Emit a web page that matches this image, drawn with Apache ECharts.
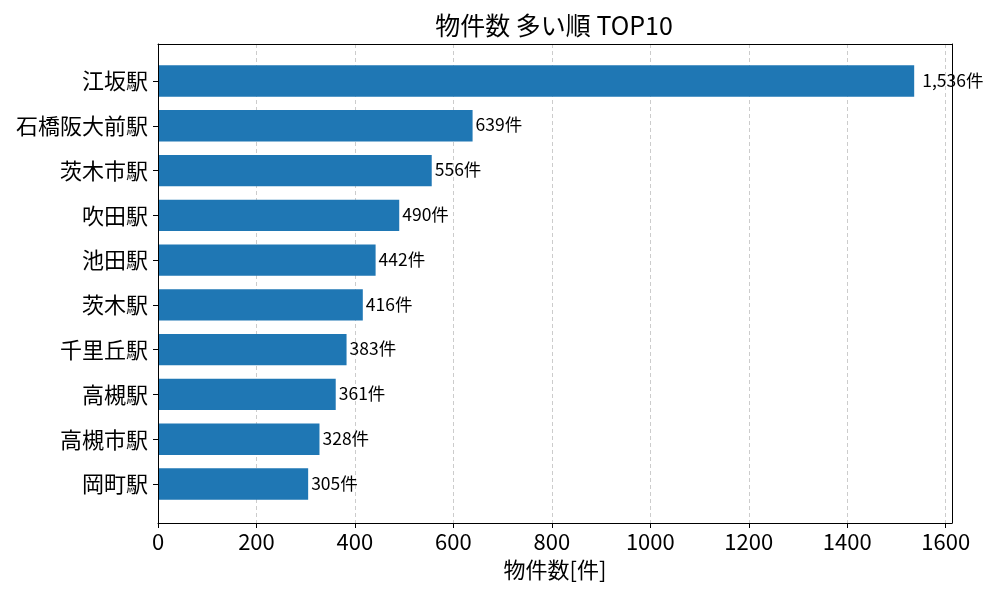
<!DOCTYPE html>
<html><head><meta charset="utf-8">
<script src="https://cdn.jsdelivr.net/npm/echarts@6/dist/echarts.min.js"></script>
<style>html,body{margin:0;padding:0;background:#fff}#c{width:1000px;height:600px}</style>
</head><body><div id="c"></div>
<script>
const stations = ['江坂駅','石橋阪大前駅','茨木市駅','吹田駅','池田駅','茨木駅','千里丘駅','高槻駅','高槻市駅','岡町駅'];
const counts = [1536, 639, 556, 490, 442, 416, 383, 361, 328, 305];
const xTicks = [0, 200, 400, 600, 800, 1000, 1200, 1400, 1600];
const FONT = 'Noto Sans CJK JP';
const xMax = 1612.8;

const frameLine = { show: true, onZero: false, lineStyle: { color: '#000', width: 1 } };
const chart = echarts.init(document.getElementById('c'));
chart.setOption({
  animation: false,
  textStyle: { fontFamily: FONT },
  title: {
    text: '物件数 多い順 TOP10', left: 549, top: 8, textAlign: 'center',
    textStyle: { fontFamily: FONT, fontSize: 25, fontWeight: 'normal', color: '#000' }
  },
  grid: [
    { left: 158, right: 48, top: 44, bottom: 77 },
    { left: 158, right: 48, top: 58.6, bottom: 93.6 }
  ],
  xAxis: [
    {
      gridIndex: 0, type: 'value', min: 0, max: xMax, position: 'bottom', z: 5,
      name: '物件数[件]', nameLocation: 'middle', nameGap: 36,
      nameTextStyle: { fontFamily: FONT, fontSize: 22, color: '#000' },
      axisLine: frameLine,
      axisTick: { show: true, length: 5, customValues: xTicks, lineStyle: { color: '#000' } },
      axisLabel: { customValues: xTicks, fontSize: 22, color: '#000', margin: 8, fontFamily: FONT, formatter: v => String(v) },
      splitLine: { show: false }
    },
    {
      gridIndex: 0, type: 'value', min: 0, max: xMax, position: 'top', z: 1,
      axisLine: { show: false }, axisTick: { show: false }, axisLabel: { show: false },
      splitLine: { show: true, lineStyle: { color: '#cccccc', type: [4, 3], width: 1 } },
      interval: 200
    },
    { gridIndex: 1, type: 'value', min: 0, max: xMax, show: false },
    {
      gridIndex: 0, type: 'value', min: 0, max: xMax, position: 'top', z: 5,
      axisLine: frameLine, axisTick: { show: false }, axisLabel: { show: false }, splitLine: { show: false }
    }
  ],
  yAxis: [
    { gridIndex: 0, type: 'value', min: 0, max: 1, position: 'left', z: 5,
      axisLine: frameLine, axisTick: { show: false }, axisLabel: { show: false }, splitLine: { show: false } },
    {
      gridIndex: 1, type: 'category', inverse: true, data: stations,
      axisLine: { show: false },
      axisTick: { show: true, length: 5, alignWithLabel: true, lineStyle: { color: '#000' } },
      axisLabel: { fontSize: 22, color: '#000', margin: 10, fontFamily: FONT },
      splitLine: { show: false }
    },
    { gridIndex: 0, type: 'value', min: 0, max: 1, position: 'right', z: 5,
      axisLine: frameLine, axisTick: { show: false }, axisLabel: { show: false }, splitLine: { show: false } }
  ],
  series: [{
    type: 'bar', xAxisIndex: 2, yAxisIndex: 1, z: 3,
    data: counts.map((v, i) => i === 0 ? { value: v, label: { distance: 8 } } : v),
    barCategoryGap: '30%',
    itemStyle: { color: '#1f77b4', borderWidth: 0 },
    label: {
      show: true, position: 'right', distance: 3, fontSize: 17.5, color: '#000', fontFamily: FONT,
      offset: [0, -1],
      formatter: p => p.value.toLocaleString('en-US') + '件'
    }
  }]
});
</script></body></html>
